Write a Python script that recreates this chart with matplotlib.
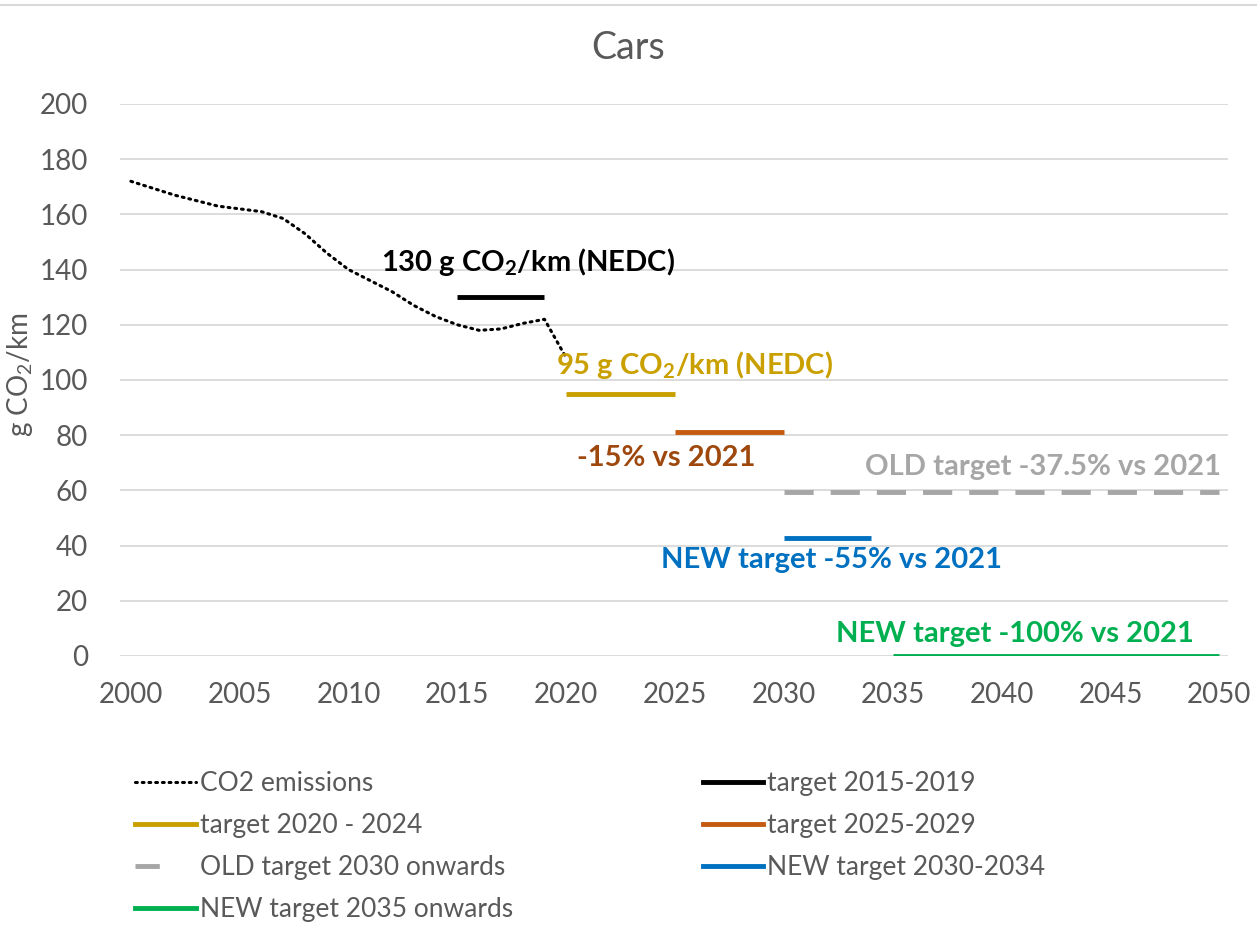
import matplotlib
matplotlib.use("Agg")
import matplotlib.pyplot as plt
from matplotlib.lines import Line2D

plt.rcParams['font.family'] = ['Lato', 'DejaVu Sans']
plt.rcParams['mathtext.fontset'] = 'custom'
plt.rcParams['mathtext.rm'] = 'Lato'
plt.rcParams['mathtext.bf'] = 'Lato:bold'

# CO2 emissions of new cars (g CO2/km)
years = list(range(2000, 2021))
emissions = [172, 169.5, 167, 165, 163, 162, 161, 158.5, 153, 146, 140, 136,
             132, 127, 123, 120, 118, 118.5, 120.5, 122, 108]

# targets: ([start, end], [value, value])
t_2015 = ([2015, 2019], [130, 130])
t_2020 = ([2020, 2025], [95, 95])
t_2025 = ([2025, 2030], [81, 81])
t_old_2030 = ([2030, 2050], [59.4, 59.4])
t_new_2030 = ([2030, 2034], [42.75, 42.75])
t_new_2035 = ([2035, 2050], [0, 0])

GREY = '#595959'
C_YEL = '#C9A000'
C_ORA = '#C55A11'
C_OLD = '#A6A6A6'
C_BLU = '#0070C0'
C_GRN = '#00B050'

fig = plt.figure(figsize=(12.57, 9.26), dpi=100)
ax = fig.add_axes([120 / 1257, 1 - 656 / 926, (1228 - 120) / 1257, (656 - 104) / 926])

ax.plot(years, emissions, color='black', lw=2.2, ls=(0, (0.6, 1.6)),
        dash_capstyle='round')
ax.plot(*t_2015, color='black', lw=3.5, solid_capstyle='butt')
ax.plot(*t_2020, color=C_YEL, lw=3.5, solid_capstyle='butt')
ax.plot(*t_2025, color=C_ORA, lw=3.5, solid_capstyle='butt')
ax.plot(*t_old_2030, color=C_OLD, lw=3.5, ls=(0, (6, 3.5)), dash_capstyle='butt')
ax.plot(*t_new_2030, color=C_BLU, lw=3.5, solid_capstyle='butt')
ax.plot(*t_new_2035, color=C_GRN, lw=3.5, solid_capstyle='butt')

fs = 21
kw = dict(fontsize=fs, fontweight='bold', ha='center', va='center')
ax.text(2018.26, 142.8, r'130 g CO$_\mathbf{2}$/km (NEDC)', color='black', **kw)
ax.text(2025.9, 105.4, r'95 g CO$_\mathbf{2}$/km (NEDC)', color=C_YEL, **kw)
ax.text(2024.6, 71.7, '-15% vs 2021', color='#9E480E', **kw)
ax.text(2041.9, 68.5, 'OLD target -37.5% vs 2021', color=C_OLD, **kw)
ax.text(2032.2, 34.8, 'NEW target -55% vs 2021', color=C_BLU, **kw)
ax.text(2040.6, 8, 'NEW target -100% vs 2021', color=C_GRN, **kw)

ax.set_xlim(1999.5, 2050.4)
ax.set_ylim(0, 200)
ax.set_xticks(range(2000, 2051, 5))
ax.set_yticks(range(0, 201, 20))
ax.grid(axis='y', color='#D9D9D9', lw=1.3)
ax.set_axisbelow(True)
for s in ax.spines.values():
    s.set_visible(False)
ax.tick_params(length=0, labelsize=20, labelcolor=GREY)
ax.tick_params(axis='x', pad=19)
ax.tick_params(axis='y', pad=23)
fig.text(628 / 1257, 1 - 48 / 926, 'Cars', fontsize=27, color=GREY,
         ha='center', va='center')
fig.text(20 / 1257, 1 - 375 / 926, r'g CO$_2$/km', rotation=90, fontsize=20,
         color=GREY, ha='center', va='center')

# frame line on top
fig.add_artist(Line2D([0, 1], [1 - 5 / 926, 1 - 5 / 926], color='#D9D9D9', lw=1.5))

handles = [
    Line2D([], [], color='black', lw=2.2, ls=(0, (0.6, 1.6)), dash_capstyle='round'),
    Line2D([], [], color=C_YEL, lw=3.5),
    Line2D([], [], color=C_OLD, lw=3.5, ls=(0, (5, 20))),
    Line2D([], [], color=C_GRN, lw=3.5),
    Line2D([], [], color='black', lw=3.5),
    Line2D([], [], color=C_ORA, lw=3.5),
    Line2D([], [], color=C_BLU, lw=3.5),
]
labels = ['CO2 emissions', 'target 2020 - 2024', 'OLD target 2030 onwards',
          'NEW target 2035 onwards', 'target 2015-2019', 'target 2025-2029',
          'NEW target 2030-2034']
leg = fig.legend(handles, labels, ncol=2, loc='upper left',
                 bbox_to_anchor=(135 / 1257, 1 - 771 / 926), frameon=False,
                 fontsize=19, handlelength=2.3, handletextpad=0.15,
                 columnspacing=7.2, labelspacing=0.65, borderaxespad=0,
                 borderpad=0)
for t in leg.get_texts():
    t.set_color(GREY)

fig.savefig('out.png', dpi=100, facecolor='white')
